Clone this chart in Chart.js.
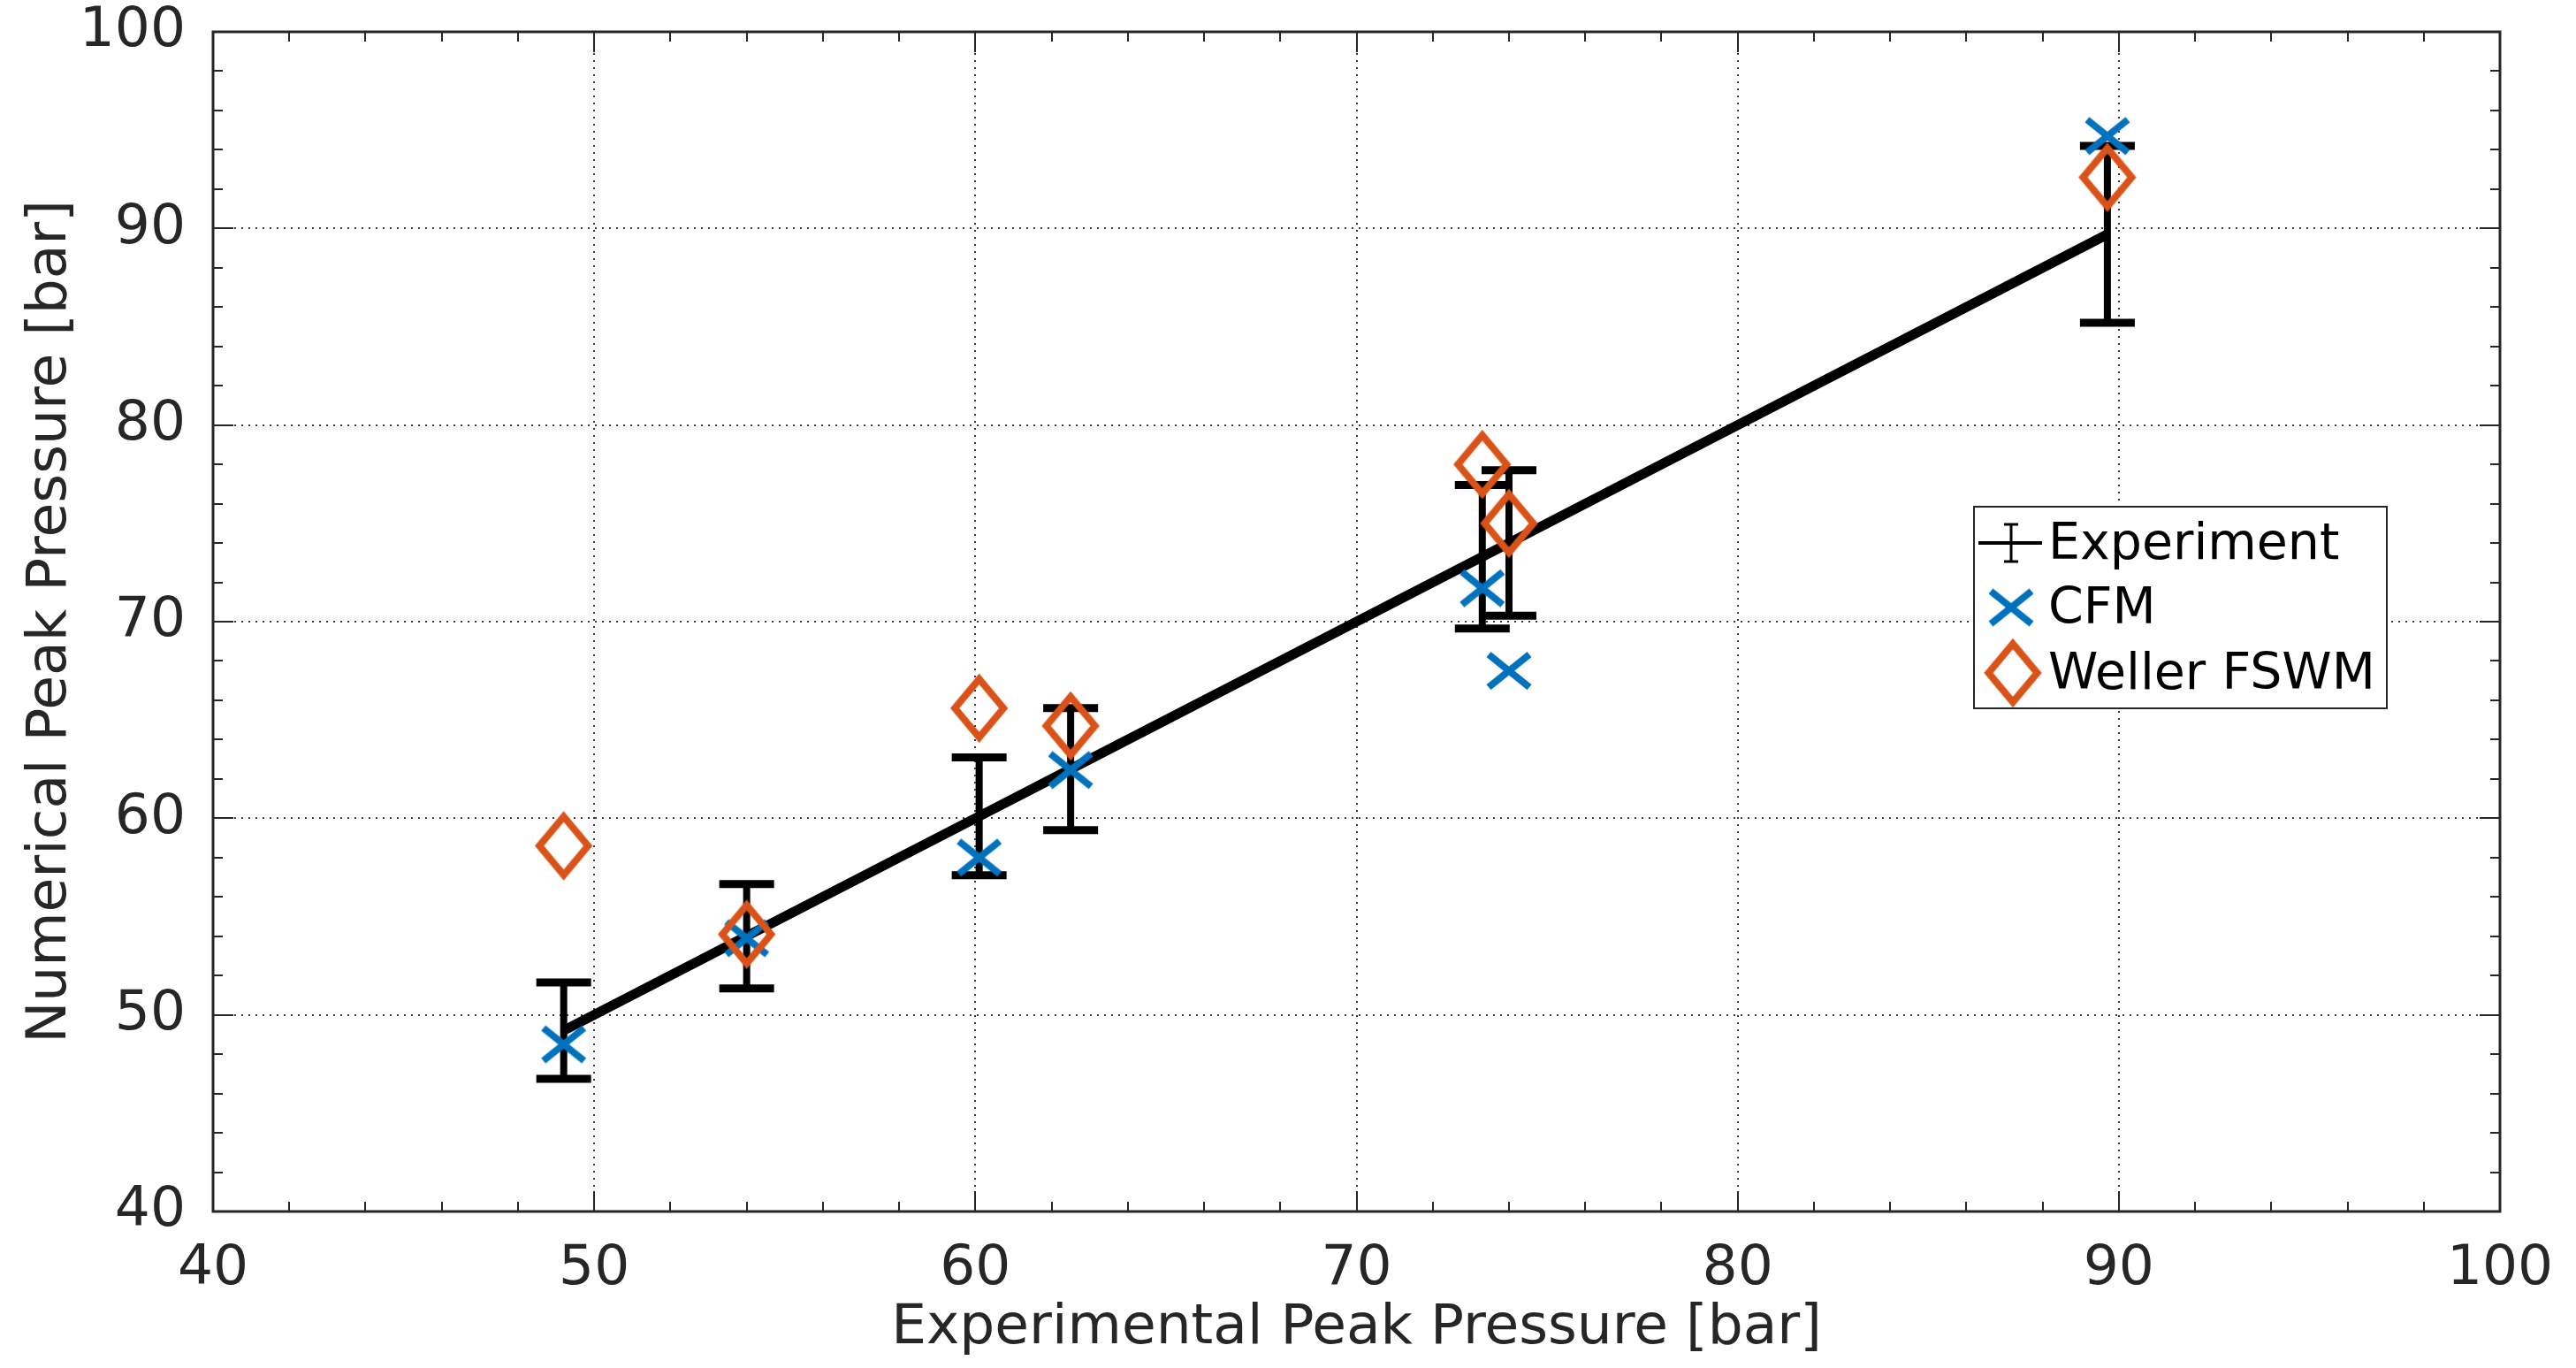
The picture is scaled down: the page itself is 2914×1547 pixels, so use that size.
<!DOCTYPE html>
<html><head><meta charset="utf-8">
<script src="https://cdn.jsdelivr.net/npm/chart.js@4"></script>
<style>html,body{margin:0;padding:0;background:#fff;}#wrap{width:2914px;height:1547px;position:relative;}</style>
</head><body><div id="wrap"><canvas id="c" width="2914" height="1547" style="width:2914px;height:1547px"></canvas></div>
<script>
// ---- data ----
const expPressure    = [49.2, 54.0, 60.1, 62.5, 73.3, 74.0, 89.7];
const expError       = [2.45, 2.65, 3.0, 3.1, 3.65, 3.7, 4.5];
const cfmPressure    = [48.5, 53.9, 58.0, 62.45, 71.7, 67.5, 94.7];
const wellerPressure = [58.6, 54.1, 65.6, 64.7, 78.0, 75.0, 92.6];
const seriesNames = ['Experiment', 'CFM', 'Weller FSWM'];
const axisMin = 40, axisMax = 100, majorStep = 10, minorStep = 2;
const xTitle = 'Experimental Peak Pressure [bar]';
const yTitle = 'Numerical Peak Pressure [bar]';

const FONT = 'DejaVu Sans';
const BLUE = '#0072BD', ORANGE = '#D95319', AXC = '#262626';

function makeDiamond(w, h, lw, color) {
  const c = document.createElement('canvas');
  c.width = w + lw * 3; c.height = h + lw * 3;
  const g = c.getContext('2d'); const cx = c.width / 2, cy = c.height / 2;
  g.strokeStyle = color; g.lineWidth = lw; g.lineJoin = 'miter';
  g.beginPath(); g.moveTo(cx, cy - h / 2); g.lineTo(cx + w / 2, cy); g.lineTo(cx, cy + h / 2); g.lineTo(cx - w / 2, cy); g.closePath(); g.stroke();
  return c;
}
function makeCross(w, h, lw, color) {
  const c = document.createElement('canvas');
  c.width = w + lw * 2; c.height = h + lw * 2;
  const g = c.getContext('2d'); const cx = c.width / 2, cy = c.height / 2;
  g.strokeStyle = color; g.lineWidth = lw; g.lineCap = 'butt';
  g.beginPath(); g.moveTo(cx - w / 2, cy - h / 2); g.lineTo(cx + w / 2, cy + h / 2);
  g.moveTo(cx + w / 2, cy - h / 2); g.lineTo(cx - w / 2, cy + h / 2); g.stroke();
  return c;
}
const diamondImg = makeDiamond(55, 66, 8, ORANGE);
const crossImg = makeCross(46, 37, 8, BLUE);

const frame = {
  id: 'frame',
  beforeDatasetsDraw(chart) {
    const {ctx, chartArea: a, scales: {x, y}} = chart;
    ctx.save();
    const seg = (x1, y1, x2, y2) => { ctx.beginPath(); ctx.moveTo(x1, y1); ctx.lineTo(x2, y2); ctx.stroke(); };
    ctx.strokeStyle = '#3a3a3a'; ctx.lineWidth = 2; ctx.setLineDash([2, 6]);
    for (let v = axisMin + majorStep; v < axisMax; v += majorStep) {
      const px = Math.round(x.getPixelForValue(v)); seg(px, a.top, px, a.bottom);
      const py = Math.round(y.getPixelForValue(v)); seg(a.left, py, a.right, py);
    }
    ctx.setLineDash([]);
    ctx.strokeStyle = AXC; ctx.lineWidth = 2;
    for (let v = axisMin; v <= axisMax; v += minorStep) {
      const len = ((v - axisMin) % majorStep === 0) ? 23 : 11;
      const px = Math.round(x.getPixelForValue(v));
      seg(px, a.bottom, px, a.bottom - len); seg(px, a.top, px, a.top + len);
      const py = Math.round(y.getPixelForValue(v));
      seg(a.left, py, a.left + len, py); seg(a.right, py, a.right - len, py);
    }
    ctx.lineWidth = 3;
    ctx.strokeRect(a.left, a.top, a.right - a.left, a.bottom - a.top);
    ctx.restore();
  },
  afterDatasetDraw(chart, args) {
    if (args.index !== 2) return;
    const {ctx, scales: {x, y}} = chart;
    ctx.save();
    ctx.strokeStyle = '#000'; ctx.lineCap = 'butt';
    expPressure.forEach((v, i) => {
      const px = x.getPixelForValue(v);
      const top = y.getPixelForValue(v + expError[i]);
      const bot = y.getPixelForValue(v - expError[i]);
      ctx.lineWidth = 8;
      ctx.beginPath(); ctx.moveTo(px, top); ctx.lineTo(px, bot); ctx.stroke();
      ctx.lineWidth = 9;
      ctx.beginPath(); ctx.moveTo(px - 31, top); ctx.lineTo(px + 31, top);
      ctx.moveTo(px - 31, bot); ctx.lineTo(px + 31, bot); ctx.stroke();
    });
    ctx.restore();
  },
  afterDraw(chart) {
    const {ctx, chartArea: a} = chart;
    const L = a.right - 595, T = a.top + 537, W = 467, H = 228;
    ctx.save();
    ctx.fillStyle = '#fff'; ctx.fillRect(L, T, W, H);
    ctx.strokeStyle = AXC; ctx.lineWidth = 2; ctx.strokeRect(L, T, W, H);
    const rows = [T + 41, T + 114, T + 188];
    const sx = L + 42;
    ctx.strokeStyle = '#000'; ctx.lineWidth = 4;
    ctx.beginPath(); ctx.moveTo(L + 5, rows[0]); ctx.lineTo(L + 77, rows[0]); ctx.stroke();
    ctx.lineWidth = 3;
    ctx.beginPath(); ctx.moveTo(sx, rows[0] - 21); ctx.lineTo(sx, rows[0] + 21);
    ctx.moveTo(sx - 8, rows[0] - 21); ctx.lineTo(sx + 8, rows[0] - 21);
    ctx.moveTo(sx - 8, rows[0] + 21); ctx.lineTo(sx + 8, rows[0] + 21); ctx.stroke();
    ctx.drawImage(crossImg, sx - crossImg.width / 2, rows[1] - crossImg.height / 2);
    ctx.drawImage(diamondImg, sx + 2 - diamondImg.width / 2, rows[2] - diamondImg.height / 2);
    ctx.fillStyle = '#000'; ctx.font = '57px "' + FONT + '"'; ctx.textBaseline = 'middle'; ctx.textAlign = 'left';
    seriesNames.forEach((n, i) => ctx.fillText(n, L + 84, rows[i] + 3));
    ctx.restore();
  }
};

const tickFont = {family: FONT, size: 63, lineHeight: 1.2};
new Chart(document.getElementById('c'), {
  type: 'scatter',
  data: {
    datasets: [
      {label: seriesNames[2], data: expPressure.map((v, i) => ({x: v, y: wellerPressure[i]})),
       pointStyle: diamondImg, pointRadius: 35, showLine: false, order: 0},
      {label: seriesNames[1], data: expPressure.map((v, i) => ({x: v, y: cfmPressure[i]})),
       pointStyle: crossImg, pointRadius: 28, showLine: false, order: 1},
      {label: seriesNames[0], data: expPressure.map(v => ({x: v, y: v})),
       showLine: true, borderColor: '#000', borderWidth: 11, pointRadius: 0, order: 2}
    ]
  },
  options: {
    responsive: false, maintainAspectRatio: false, animation: false, devicePixelRatio: 1,
    layout: {padding: {left: 0, top: 29, right: 86, bottom: 0}},
    plugins: {legend: {display: false}, tooltip: {enabled: false}},
    elements: {point: {hoverRadius: 0}},
    scales: {
      x: {type: 'linear', position: 'bottom', min: axisMin, max: axisMax,
          grid: {display: false}, border: {display: false},
          ticks: {stepSize: majorStep, font: tickFont, color: AXC, padding: 20, maxRotation: 0},
          title: {display: true, text: xTitle, color: AXC, font: tickFont, padding: {top: 0, bottom: 7}},
          afterFit(s) { s.height = 177; s.paddingLeft = 0; s.paddingRight = 0; }},
      y: {type: 'linear', position: 'left', min: axisMin, max: axisMax,
          grid: {display: false}, border: {display: false},
          ticks: {stepSize: majorStep, font: tickFont, color: AXC, padding: 23},
          title: {display: true, text: yTitle, color: AXC, font: tickFont, padding: {top: 20, bottom: 0}},
          afterFit(s) { s.width = 241; s.paddingTop = 0; s.paddingBottom = 0; }}
    }
  },
  plugins: [frame]
});
</script></body></html>
